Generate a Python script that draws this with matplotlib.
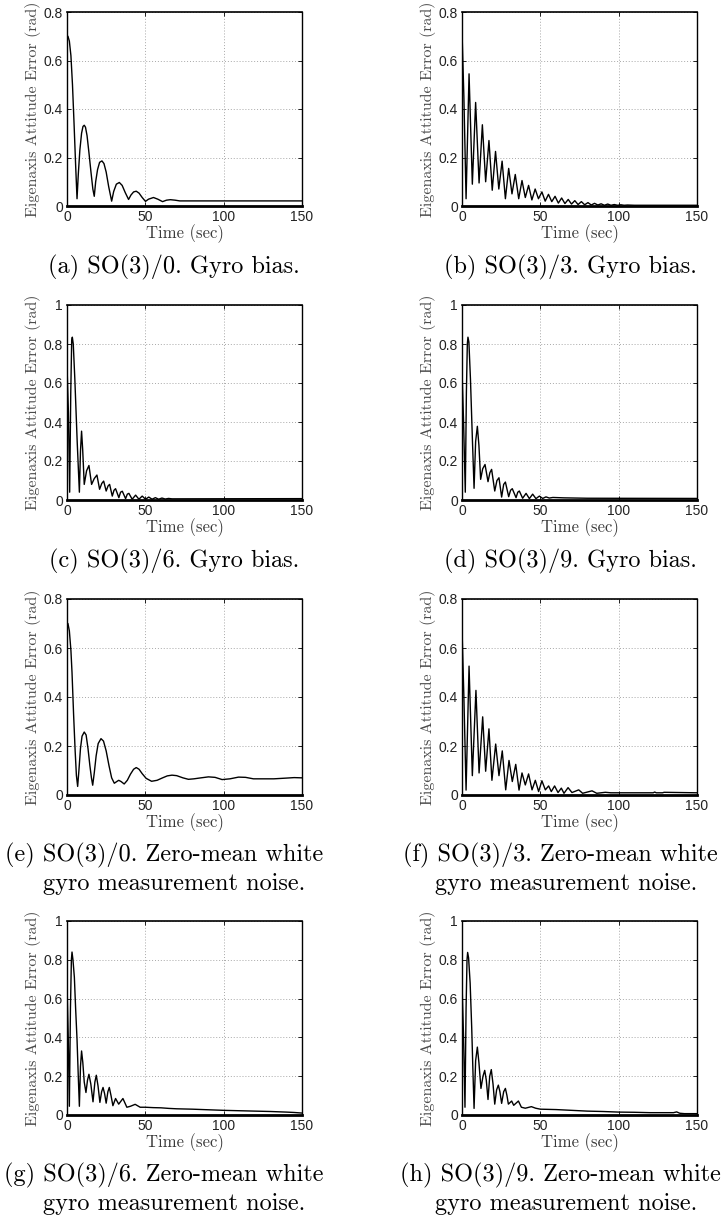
import matplotlib
matplotlib.use("Agg")
import numpy as np
from matplotlib import pyplot as plt

# eigenaxis attitude error traces, (time [s], error [rad]) read per panel
t_a = [0, 0.6, 1.5, 2.5, 3.5, 4.5, 5.5, 6.4, 7.2, 8.2, 9.3, 10.2, 11.0, 11.8,
       12.8, 14.0, 15.3, 16.5, 17.4, 18.3, 19.5, 20.8, 22.3, 23.6, 25.0, 26.6,
       28.5, 29.8, 31.5, 33.4, 35.2, 37.2, 39.3, 40.8, 42.5, 44.2, 46.0, 48.0,
       50.1, 52.0, 55.2, 58.0, 61.0, 63.5, 66.0, 69.0, 72.0, 150]
err_a = [0.69, 0.70, 0.68, 0.62, 0.50, 0.34, 0.17, 0.03, 0.13, 0.23, 0.30,
         0.328, 0.333, 0.325, 0.29, 0.22, 0.14, 0.07, 0.04, 0.10, 0.15, 0.18,
         0.186, 0.175, 0.14, 0.08, 0.02, 0.06, 0.09, 0.097, 0.085, 0.055,
         0.027, 0.045, 0.058, 0.061, 0.053, 0.035, 0.019, 0.028, 0.035, 0.028,
         0.018, 0.024, 0.026, 0.024, 0.021, 0.021]

t_b = [0, 1.2, 2.6, 4.5, 6.6, 8.7, 10.9, 13.0, 15.1, 17.2, 19.3, 21.4, 23.5,
       25.6, 27.7, 29.8, 31.9, 34.0, 36.2, 38.3, 40.4, 42.5, 44.6, 46.7, 48.8,
       51.0, 53.1, 55.2, 57.3, 59.4, 61.5, 63.6, 65.7, 67.8, 69.9, 72.0, 74.1,
       76.2, 78.3, 80.4, 82.5, 84.6, 86.7, 88.8, 90.9, 93.0, 95.1, 97.2, 99.3,
       101.4, 103.5, 105.6, 110, 150]
err_b = [0.72, 0.45, 0.03, 0.545, 0.09, 0.427, 0.095, 0.335, 0.10, 0.27,
         0.065, 0.225, 0.07, 0.185, 0.03, 0.155, 0.05, 0.13, 0.03, 0.105,
         0.035, 0.085, 0.025, 0.07, 0.03, 0.058, 0.02, 0.048, 0.018, 0.04,
         0.012, 0.033, 0.01, 0.027, 0.008, 0.022, 0.006, 0.018, 0.005, 0.014,
         0.004, 0.011, 0.004, 0.009, 0.003, 0.008, 0.003, 0.006, 0.003, 0.005,
         0.003, 0.004, 0.003, 0.003]

t_c = [0, 0.9, 1.7, 2.4, 3.0, 3.4, 4.0, 5.0, 6.5, 7.9, 8.6, 9.3, 10.0, 11.0,
       12.5, 14.0, 15.7, 17.4, 19.1, 20.8, 22.2, 23.4, 25.0, 26.2, 27.2, 28.9,
       30.0, 31.0, 33.1, 34.2, 35.3, 37.4, 38.5, 39.5, 41.6, 43.8, 45.9, 48.0,
       50.1, 52.2, 54.3, 56.4, 58.5, 60.6, 62.7, 64.8, 67.0, 150]
err_c = [0.69, 0.45, 0.04, 0.55, 0.82, 0.835, 0.80, 0.62, 0.30, 0.04, 0.25,
         0.353, 0.26, 0.08, 0.15, 0.177, 0.08, 0.11, 0.128, 0.055, 0.085,
         0.097, 0.046, 0.072, 0.08, 0.02, 0.05, 0.058, 0.012, 0.04, 0.045,
         0.007, 0.03, 0.034, 0.004, 0.025, 0.004, 0.02, 0.004, 0.015, 0.004,
         0.012, 0.004, 0.01, 0.005, 0.008, 0.006, 0.007]

t_d = [0, 1.0, 2.1, 2.8, 3.4, 3.8, 4.4, 5.4, 6.6, 7.7, 8.7, 9.8, 10.8, 11.9,
       13.2, 14.7, 16.6, 17.8, 18.9, 20.9, 22.3, 23.6, 25.3, 26.6, 27.7, 29.8,
       31.0, 32.1, 34.5, 35.6, 36.6, 38.7, 40.9, 43.0, 45.1, 47.2, 49.4, 51.5,
       53.6, 55.7, 58, 65, 80, 150]
err_d = [0.67, 0.40, 0.04, 0.55, 0.80, 0.835, 0.81, 0.62, 0.32, 0.06, 0.30,
         0.378, 0.28, 0.106, 0.16, 0.182, 0.094, 0.14, 0.157, 0.046, 0.10,
         0.114, 0.015, 0.08, 0.092, 0.017, 0.05, 0.058, 0.012, 0.04, 0.046,
         0.009, 0.034, 0.007, 0.03, 0.007, 0.02, 0.008, 0.016, 0.01, 0.013,
         0.011, 0.009, 0.008]

t_e = [0, 0.6, 1.5, 2.5, 3.2, 4.2, 5.2, 6.0, 6.8, 7.6, 8.6, 9.6, 11.0, 12.2,
       13.4, 14.6, 15.6, 16.4, 17.4, 18.6, 19.9, 21.7, 23.3, 25.0, 26.8, 28.5,
       30.2, 31.8, 33.0, 34.5, 36.5, 38.5, 40.5, 42.5, 44.2, 46.0, 48.0, 50.5,
       54.0, 57.5, 61.0, 64.0, 67.0, 70.0, 74.0, 77.5, 81.0, 85.5, 90.3, 94.5,
       99.0, 104.0, 109.5, 114.0, 119.0, 125.0, 132.0, 140.0, 145.0, 150]
err_e = [0.69, 0.70, 0.67, 0.59, 0.50, 0.33, 0.18, 0.08, 0.035, 0.10, 0.19,
         0.24, 0.257, 0.245, 0.19, 0.12, 0.07, 0.04, 0.09, 0.16, 0.21, 0.23,
         0.22, 0.18, 0.12, 0.07, 0.048, 0.055, 0.06, 0.055, 0.045, 0.06,
         0.085, 0.105, 0.112, 0.105, 0.087, 0.068, 0.056, 0.06, 0.07, 0.078,
         0.081, 0.079, 0.07, 0.064, 0.066, 0.07, 0.074, 0.072, 0.063, 0.066,
         0.073, 0.072, 0.066, 0.066, 0.066, 0.069, 0.071, 0.07]

t_f = [0, 1.2, 2.6, 4.5, 6.6, 8.9, 10.9, 13.2, 15.1, 17.2, 19.1, 21.5, 23.6,
       25.7, 27.9, 30.0, 32.1, 34.3, 36.4, 38.3, 40.4, 42.5, 44.7, 46.8, 48.9,
       51.0, 53.2, 55.3, 57.0, 59.1, 61.3, 63.4, 65.1, 67.7, 70.2, 74.5, 77.0,
       83.0, 86.0, 91.5, 95.0, 110, 122, 123, 124, 128, 129, 150]
err_f = [0.68, 0.40, 0.02, 0.526, 0.079, 0.427, 0.09, 0.319, 0.097, 0.27,
         0.06, 0.208, 0.079, 0.18, 0.021, 0.141, 0.055, 0.125, 0.02, 0.09,
         0.041, 0.086, 0.021, 0.06, 0.014, 0.058, 0.021, 0.037, 0.014, 0.037,
         0.01, 0.028, 0.007, 0.03, 0.01, 0.021, 0.007, 0.017, 0.007, 0.011,
         0.009, 0.009, 0.009, 0.012, 0.009, 0.009, 0.011, 0.009]

t_g = [0, 0.8, 1.5, 2.2, 2.8, 3.2, 3.8, 4.7, 5.5, 6.4, 7.2, 7.9, 8.6, 9.3,
       10.1, 11.0, 12.1, 13.1, 14.0, 15.2, 16.6, 17.8, 18.7, 19.8, 21.0, 22.1,
       23.0, 24.0, 25.0, 26.1, 27.0, 28.1, 29.3, 31.0, 33.0, 35.7, 38.2, 40.5,
       43.5, 46.7, 50, 55, 60, 65, 70, 75, 80, 90, 100, 110, 120, 130, 140,
       145, 150]
err_g = [0.68, 0.40, 0.045, 0.55, 0.80, 0.84, 0.80, 0.71, 0.55, 0.39, 0.20,
         0.045, 0.25, 0.33, 0.27, 0.17, 0.116, 0.18, 0.21, 0.16, 0.068, 0.17,
         0.205, 0.15, 0.065, 0.12, 0.142, 0.11, 0.061, 0.12, 0.142, 0.10,
         0.048, 0.085, 0.056, 0.085, 0.04, 0.045, 0.055, 0.04, 0.04, 0.038,
         0.037, 0.034, 0.032, 0.031, 0.03, 0.027, 0.024, 0.022, 0.02, 0.018,
         0.015, 0.013, 0.01]

t_h = [0, 1.0, 1.9, 2.6, 3.2, 3.6, 4.2, 5.2, 6.2, 7.0, 7.7, 8.7, 9.8, 10.8,
       12.1, 13.4, 14.5, 15.5, 16.6, 17.7, 18.7, 19.8, 20.9, 22.1, 23.2, 24.2,
       25.3, 26.6, 27.7, 28.7, 29.6, 31.7, 33.0, 36.0, 37.9, 40.4, 44.3, 47,
       50, 60, 70, 80, 90, 100, 110, 120, 130, 135, 137, 139, 142, 150]
err_h = [0.68, 0.40, 0.04, 0.55, 0.80, 0.838, 0.81, 0.68, 0.45, 0.22, 0.034,
         0.28, 0.35, 0.27, 0.137, 0.20, 0.23, 0.18, 0.08, 0.20, 0.234, 0.16,
         0.056, 0.13, 0.154, 0.12, 0.06, 0.12, 0.137, 0.10, 0.056, 0.072,
         0.05, 0.072, 0.04, 0.035, 0.043, 0.035, 0.03, 0.028, 0.024, 0.02,
         0.018, 0.015, 0.014, 0.012, 0.012, 0.012, 0.016, 0.009, 0.007, 0.007]

x_ticks = [0, 50, 100, 150]
y_ticks_08 = [0, 0.2, 0.4, 0.6, 0.8]
y_labels_08 = ["0", "0.2", "0.4", "0.6", "0.8"]
y_ticks_1 = [0, 0.2, 0.4, 0.6, 0.8, 1.0]
y_labels_1 = ["0", "0.2", "0.4", "0.6", "0.8", "1"]

captions = [
    ["(a) SO(3)/0. Gyro bias."],
    ["(b) SO(3)/3. Gyro bias."],
    ["(c) SO(3)/6. Gyro bias."],
    ["(d) SO(3)/9. Gyro bias."],
    ["(e) SO(3)/0. Zero-mean white", "gyro measurement noise."],
    ["(f) SO(3)/3. Zero-mean white", "gyro measurement noise."],
    ["(g) SO(3)/6. Zero-mean white", "gyro measurement noise."],
    ["(h) SO(3)/9. Zero-mean white", "gyro measurement noise."],
]

W, H = 724, 1220
fig = plt.figure(figsize=(W / 100, H / 100), dpi=100)

# axes boxes in pixels: (left, right) per column, (top, bottom) per row
col_x = [(67, 302), (462, 697)]
row_y = [(12, 206), (305, 500), (599, 795), (921, 1115)]

series = [(t_a, err_a), (t_b, err_b), (t_c, err_c), (t_d, err_d),
          (t_e, err_e), (t_f, err_f), (t_g, err_g), (t_h, err_h)]
ymax = [0.8, 0.8, 1.0, 1.0, 0.8, 0.8, 1.0, 1.0]

serif = "cmr10"

for i, (t, err) in enumerate(series):
    r, c = i // 2, i % 2
    x0, x1 = col_x[c]
    y0, y1 = row_y[r]
    ax = fig.add_axes([x0 / W, 1 - y1 / H, (x1 - x0) / W, (y1 - y0) / H])
    ax.plot(t, err, color="black", lw=1.0)
    ax.set_xlim(0, 150)
    ax.set_ylim(0, ymax[i])
    ax.set_xticks(x_ticks)
    ax.set_xticklabels([str(v) for v in x_ticks])
    if ymax[i] == 1.0:
        ax.set_yticks(y_ticks_1)
        ax.set_yticklabels(y_labels_1)
    else:
        ax.set_yticks(y_ticks_08)
        ax.set_yticklabels(y_labels_08)
    ax.grid(True, color="#a8a8a8", linestyle=(0, (1, 2)), lw=0.7)
    ax.tick_params(direction="in", length=3, width=0.6, pad=3,
                   labelsize=10, labelcolor="#222222",
                   top=True, right=True)
    for lab in ax.get_xticklabels() + ax.get_yticklabels():
        lab.set_family("Liberation Sans")
    for side in ["left", "right"]:
        ax.spines[side].set_linewidth(1.0)
    ax.spines["top"].set_linewidth(1.2)
    ax.spines["bottom"].set_linewidth(2.0)
    ax.set_xlabel("Time (sec)", family=serif, fontsize=12,
                  color="#3a3a3a", labelpad=0)
    ax.set_ylabel("Eigenaxis Attitude Error (rad)", family=serif,
                  fontsize=11.5, color="#4a4a4a", labelpad=2)

    # caption under each subplot
    lines = captions[i]
    if len(lines) == 1:
        cx = [174, 570][c]
        fig.text(cx / W, 1 - (y1 + 61) / H, lines[0], family=serif,
                 fontsize=17.5, ha="center", va="center")
    else:
        cx1 = [164, 560][c]
        cx2 = [174, 566][c]
        fig.text(cx1 / W, 1 - (y1 + 60) / H, lines[0], family=serif,
                 fontsize=17.5, ha="center", va="center")
        fig.text(cx2 / W, 1 - (y1 + 89) / H, lines[1], family=serif,
                 fontsize=17.5, ha="center", va="center")

plt.savefig("out.png", dpi=100)
